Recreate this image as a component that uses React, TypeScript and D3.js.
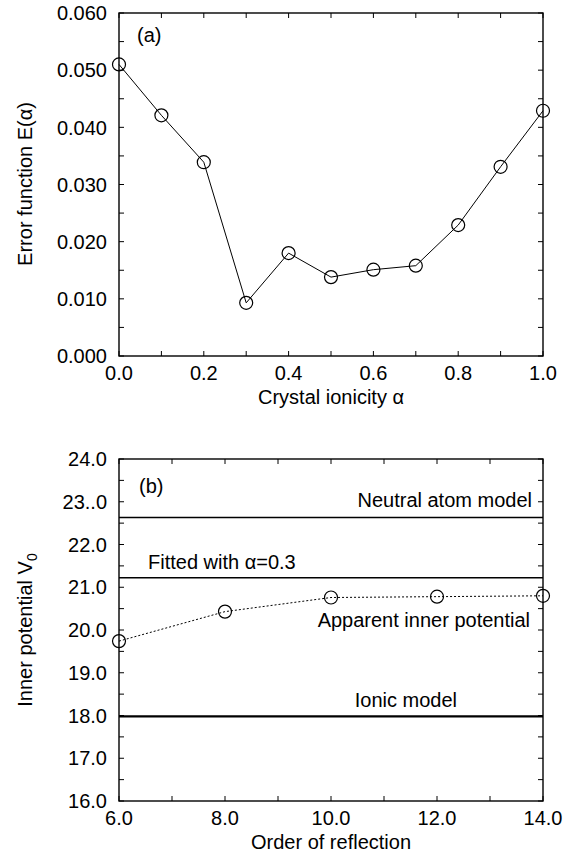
import { useMemo } from "react";
import * as d3 from "d3";

// panel (a): error function vs crystal ionicity
const ionicity = [0.0, 0.1, 0.2, 0.3, 0.4, 0.5, 0.6, 0.7, 0.8, 0.9, 1.0];
const errorValues = [0.051, 0.0421, 0.0339, 0.0093, 0.018, 0.0138, 0.0151, 0.0158, 0.0229, 0.0331, 0.0429];
const aTickLabels = ["0.000", "0.010", "0.020", "0.030", "0.040", "0.050", "0.060"];

// panel (b): inner potential vs order of reflection
const orders = [6, 8, 10, 12, 14];
const apparentV0 = [19.74, 20.43, 20.76, 20.78, 20.8];
const neutralAtomV0 = 22.63;
const fittedV0 = 21.22;
const ionicV0 = 17.98;
const bTickLabels = ["16.0", "17.0", "18.0", "19.0", "20.0", "21.0", "22.0", "23..0", "24.0"];
const bXTickLabels = ["6.0", "8.0", "10.0", "12.0", "14.0"];

const FONT = "'Liberation Sans', Arial, Helvetica, sans-serif";
const FS = 20;
const TICK = 5;

type FrameProps = {
    x: d3.ScaleLinear<number, number>;
    y: d3.ScaleLinear<number, number>;
    xMinor: number[];
    yMinor: number[];
};

// box frame with inward ticks on all four sides
const Frame = ({ x, y, xMinor, yMinor }: FrameProps) => {
    const [x0, x1] = x.range();
    const [y0, y1] = y.range();
    return (
        <g stroke="#000" strokeWidth={1.4}>
            {xMinor.map((v, i) => (
                <g key={"x" + i}>
                    <line x1={x(v)} x2={x(v)} y1={y0} y2={y0 - TICK} strokeWidth={1} />
                    <line x1={x(v)} x2={x(v)} y1={y1} y2={y1 + TICK} strokeWidth={1} />
                </g>
            ))}
            {yMinor.map((v, i) => (
                <g key={"y" + i}>
                    <line x1={x0} x2={x0 + TICK} y1={y(v)} y2={y(v)} strokeWidth={1} />
                    <line x1={x1} x2={x1 - TICK} y1={y(v)} y2={y(v)} strokeWidth={1} />
                </g>
            ))}
            <rect x={x0} y={y1} width={x1 - x0} height={y0 - y1} fill="none" />
        </g>
    );
};

export default function App() {
    const xa = useMemo(() => d3.scaleLinear().domain([0, 1]).range([119, 543]), []);
    const ya = useMemo(() => d3.scaleLinear().domain([0, 0.06]).range([356, 13]), []);
    const xb = useMemo(() => d3.scaleLinear().domain([6, 14]).range([119, 543]), []);
    const yb = useMemo(() => d3.scaleLinear().domain([16, 24]).range([801, 459]), []);

    const lineA = d3
        .line<number>()
        .x((_, i) => xa(ionicity[i]))
        .y((d) => ya(d))(errorValues) || "";
    const lineB = d3
        .line<number>()
        .x((_, i) => xb(orders[i]))
        .y((d) => yb(d))(apparentV0) || "";

    const aXMinor = d3.range(0, 1.0001, 0.1);
    const aYMinor = d3.range(0, 0.0601, 0.005);
    const aXLabels = d3.range(0, 1.0001, 0.2);
    const bXMinor = d3.range(6, 14.001, 1);
    const bYMinor = d3.range(16, 24.001, 0.5);

    return (
        <svg
            width={574}
            height={856}
            style={{ position: "absolute", left: 0, top: 0, background: "#fff" }}
            fontFamily={FONT}
            fontSize={FS}
        >
            {/* ---------- panel (a) ---------- */}
            <Frame x={xa} y={ya} xMinor={aXMinor} yMinor={aYMinor} />
            {aTickLabels.map((t, i) => (
                <text key={t} x={107} y={ya(i * 0.01)} textAnchor="end" dy="0.36em">
                    {t}
                </text>
            ))}
            {aXLabels.map((v) => (
                <text key={v} x={xa(v)} y={380} textAnchor="middle">
                    {v.toFixed(1)}
                </text>
            ))}
            <text x={331} y={404} textAnchor="middle">Crystal ionicity α</text>
            <text transform="translate(32,184) rotate(-90)" textAnchor="middle">
                Error function E(α)
            </text>
            <text x={137} y={42}>(a)</text>
            <path d={lineA} fill="none" stroke="#000" strokeWidth={1} />
            {errorValues.map((v, i) => (
                <circle key={i} cx={xa(ionicity[i])} cy={ya(v)} r={6.5} fill="none" stroke="#000" strokeWidth={1.2} />
            ))}

            {/* ---------- panel (b) ---------- */}
            <Frame x={xb} y={yb} xMinor={bXMinor} yMinor={bYMinor} />
            {bTickLabels.map((t, i) => (
                <text key={t} x={107} y={yb(16 + i)} textAnchor="end" dy="0.36em">
                    {t}
                </text>
            ))}
            {bXTickLabels.map((t, i) => (
                <text key={t} x={xb(6 + 2 * i)} y={825} textAnchor="middle">
                    {t}
                </text>
            ))}
            <text x={331} y={849} textAnchor="middle">Order of reflection</text>
            <text transform="translate(32,630) rotate(-90)" textAnchor="middle">
                Inner potential V<tspan fontSize={FS * 0.7} dy={5}>0</tspan>
            </text>
            <text x={139} y={493}>(b)</text>

            <line x1={xb(6)} x2={xb(14)} y1={yb(neutralAtomV0)} y2={yb(neutralAtomV0)} stroke="#000" strokeWidth={1.5} />
            <line x1={xb(6)} x2={xb(14)} y1={yb(fittedV0)} y2={yb(fittedV0)} stroke="#000" strokeWidth={1.5} />
            <line x1={xb(6)} x2={xb(14)} y1={yb(ionicV0)} y2={yb(ionicV0)} stroke="#000" strokeWidth={2.2} />
            <text x={532} y={507} textAnchor="end">Neutral atom model</text>
            <text x={148} y={569}>Fitted with α=0.3</text>
            <text x={530} y={627} textAnchor="end">Apparent inner potential</text>
            <text x={457} y={707} textAnchor="end">Ionic model</text>

            <path d={lineB} fill="none" stroke="#000" strokeWidth={1} strokeDasharray="2,2" />
            {apparentV0.map((v, i) => (
                <circle key={i} cx={xb(orders[i])} cy={yb(v)} r={6.5} fill="none" stroke="#000" strokeWidth={1.2} />
            ))}
        </svg>
    );
}
